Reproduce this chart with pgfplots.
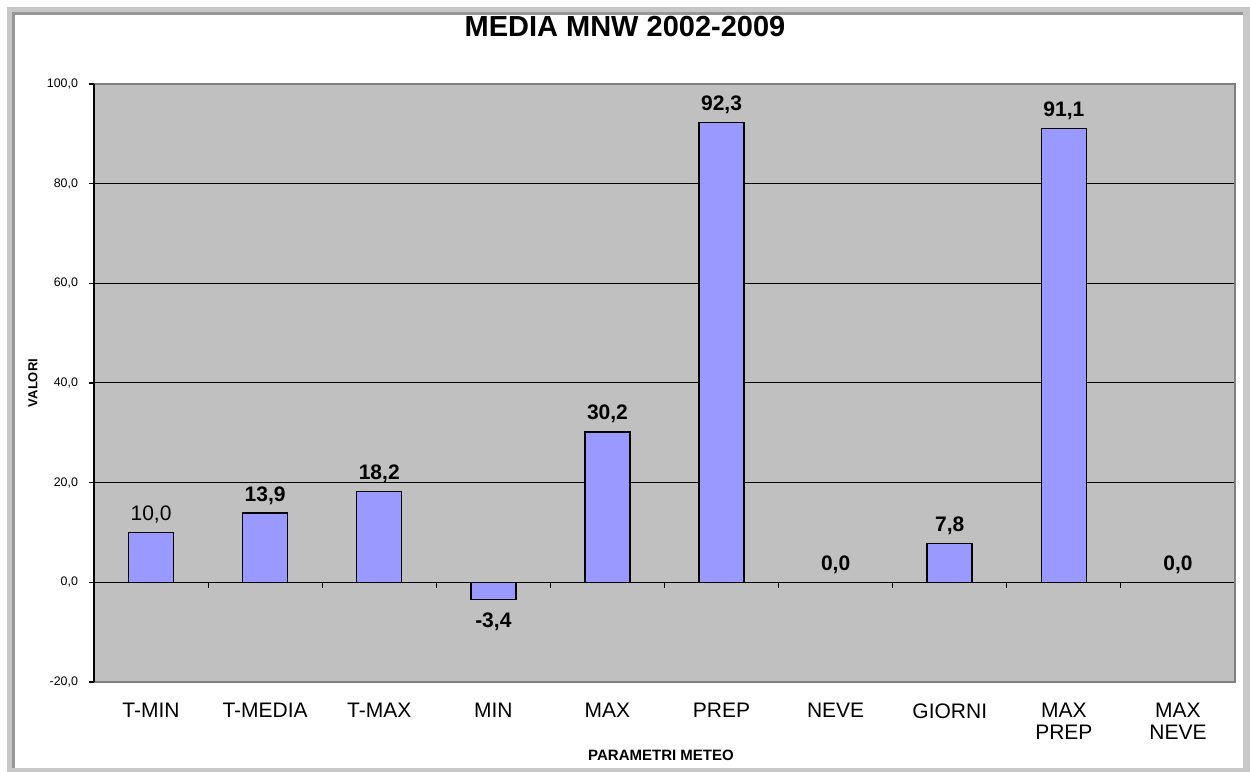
\documentclass[border=0pt]{standalone}
\usepackage{fontspec}
\setmainfont{Liberation Sans}
\usepackage{pgfplots}
\pgfplotsset{compat=1.18}

\definecolor{plotgrey}{HTML}{C0C0C0}
\definecolor{barblue}{HTML}{9999FF}
\definecolor{edgegrey}{HTML}{808080}
\definecolor{framelight}{HTML}{C8C8C8}
\definecolor{framedark}{HTML}{989898}

\pgfplotsset{
  valuelabel/.style={
    nodes near coords={\pgfmathprintnumber[fixed,fixed zerofill,precision=1,use comma,assume math mode=true]{\pgfplotspointmeta}},
  },
}

\begin{document}
\begin{tikzpicture}[x=0.5pt,y=0.5pt]
% page and sunken frame
\useasboundingbox (0,0) rectangle (1250,772);
\fill[white] (0,0) rectangle (1250,772);
\fill[framelight] (7,0) rectangle (1250,765);
\fill[white] (12,4) rectangle (1243,760);
\fill[framedark] (12,4) rectangle (15,760);
\fill[framedark] (12,757) rectangle (1243,760);

\begin{axis}[
  at={(47pt,45pt)}, anchor=south west,
  scale only axis, width=570.5pt, height=299pt,
  xmin=-0.5, xmax=9.5, ymin=-20, ymax=100,
  axis background/.style={fill=plotgrey},
  axis line style={draw=none},
  ytick={-20,0,20,40,60,80,100},
  ytick pos=left,
  xtick={0,...,9},
  xticklabels={T-MIN, T-MEDIA, T-MAX, MIN, MAX, PREP, NEVE, GIORNI, {MAX\\PREP}, {MAX\\NEVE}},
  xtick style={draw=none},
  ytick style={black, line width=0.6pt},
  tick align=outside, major tick length=2.5pt,
  yticklabel style={font=\fontsize{6.2}{7}\selectfont, xshift=-2pt},
  y tick label style={/pgf/number format/.cd, fixed, fixed zerofill, precision=1, use comma, assume math mode=true},
  xticklabel style={font=\fontsize{10.5}{11}\selectfont, align=center, anchor=north, inner sep=0pt, yshift=-8pt},
  ybar, bar shift=0pt, bar width=22.5pt,
  clip=false,
]
% horizontal grid lines
\pgfplotsinvokeforeach{20,40,60,80}{
  \draw[black, line width=0.5pt] (axis cs:-0.5,#1) -- (axis cs:9.5,#1);
}

% bars with bold value labels
\addplot[fill=barblue, draw=black, line width=0.75pt, bar shift=0pt, valuelabel,
  every node near coord/.append style={font=\bfseries\fontsize{10.5}{12}\selectfont, anchor=base, yshift=6pt}]
  coordinates {(1,13.9) (2,18.2) (4,30.2) (5,92.3) (6,0.0) (7,7.8) (8,91.1) (9,0.0)};

% T-MIN, label in regular weight
\addplot[fill=barblue, draw=black, line width=0.75pt, bar shift=0pt, valuelabel,
  every node near coord/.append style={font=\fontsize{10.5}{12}\selectfont, anchor=base, yshift=6pt}]
  coordinates {(0,10.0)};

% MIN, negative, label below the bar
\addplot[fill=barblue, draw=black, line width=0.75pt, bar shift=0pt, valuelabel,
  every node near coord/.append style={font=\bfseries\fontsize{10.5}{12}\selectfont, anchor=north, inner sep=0pt, yshift=-6.5pt}]
  coordinates {(3,-3.4)};

% zero line with category separators
\draw[black, line width=0.75pt] (axis cs:-0.5,0) -- (axis cs:9.5,0);
\pgfplotsinvokeforeach{0.5,1.5,...,8.5}{
  \draw[black, line width=0.6pt] (axis cs:#1,0) -- ++(0pt,-3pt);
}
% plot area border: grey box, black value axis
\draw[edgegrey, line width=0.75pt] (rel axis cs:0,1) -- (rel axis cs:1,1) -- (rel axis cs:1,0) -- (rel axis cs:0,0);
\draw[black, line width=0.75pt] (rel axis cs:0,0) -- (rel axis cs:0,1);
\end{axis}

\node[font=\bfseries\fontsize{14.5}{16}\selectfont] at (625,745) {MEDIA MNW 2002-2009};
\node[font=\bfseries\fontsize{7.5}{9}\selectfont] at (661,17) {PARAMETRI METEO};
\node[rotate=90, font=\bfseries\fontsize{6.5}{8}\selectfont] at (33,389) {VALORI};
\end{tikzpicture}
\end{document}
